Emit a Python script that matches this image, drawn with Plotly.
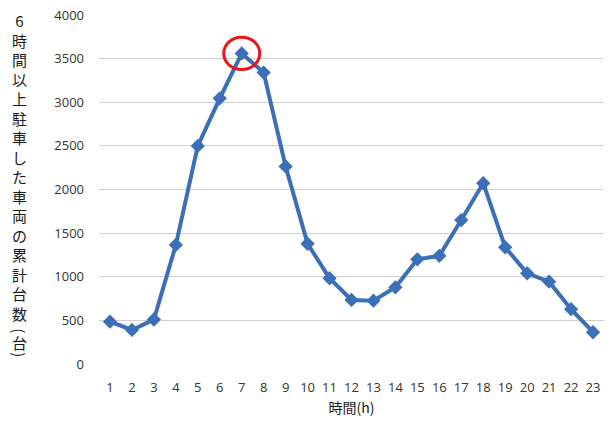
import plotly.graph_objects as go

# Hour of day (h)
hours = list(range(1, 24))
# Cumulative number of vehicles parked for 6 hours or more
vehicles = [485, 390, 510, 1365, 2500, 3045, 3560, 3340, 2265, 1378,
            983, 734, 726, 879, 1200, 1240, 1650, 2072, 1338, 1040,
            943, 628, 364]

y_ticks = [0, 500, 1000, 1500, 2000, 2500, 3000, 3500, 4000]
y_title_chars = ["6", "時", "間", "以", "上", "駐", "車", "し", "た", "車",
                 "両", "の", "累", "計", "台", "数"]
y_title_unit = ["(", "台", ")"]
x_title = "時間(h)"

peak_hour = 7
peak_value = vehicles[hours.index(peak_hour)]

tick_font = dict(family="Open Sans, Noto Sans CJK JP", size=13, color="#333333")
cjk_font = dict(family="Noto Sans CJK JP", size=15, color="#1a1a1a")

plot_top, plot_bottom = 15, 364  # pixel rows of the plot area
plot_h = plot_bottom - plot_top


def py(pix):
    """Pixel row -> paper y."""
    return (plot_bottom - pix) / plot_h


fig = go.Figure()
fig.add_trace(go.Scatter(
    x=hours, y=vehicles, mode="lines+markers",
    line=dict(color="#3b6fb8", width=4),
    marker=dict(symbol="diamond", size=11, color="#3b6fb8"),
    showlegend=False,
))

# red ring around the peak
fig.add_shape(type="circle", xref="x", yref="y",
              x0=peak_hour - 0.82, x1=peak_hour + 0.82,
              y0=peak_value - 185, y1=peak_value + 185,
              line=dict(color="#e8161b", width=3))

# vertical axis title, one character per line
title_x = -0.157
fig.add_annotation(text="<br>".join(y_title_chars), xref="paper", yref="paper",
                   x=title_x, y=py(167), xanchor="center", yanchor="middle",
                   showarrow=False, font=cjk_font, align="center")
# unit in brackets, brackets turned for vertical writing
for ch, row, ang in zip(y_title_unit, [331, 342, 355], [90, 0, 90]):
    fig.add_annotation(text=ch, xref="paper", yref="paper",
                       x=title_x, y=py(row), xanchor="center", yanchor="middle",
                       showarrow=False, font=cjk_font, textangle=ang)

fig.update_layout(
    width=611, height=426,
    margin=dict(l=99, r=7, t=plot_top, b=426 - plot_bottom),
    paper_bgcolor="white", plot_bgcolor="white",
    xaxis=dict(range=[0.5, 23.5], tickmode="array", tickvals=hours,
               ticktext=[str(h) for h in hours], showgrid=False,
               zeroline=False, showline=False, ticks="",
               tickfont=tick_font, ticklabelstandoff=14,
               title=dict(text=x_title, font=dict(family="Noto Sans CJK JP", size=14,
                                                  color="#1a1a1a"), standoff=8)),
    yaxis=dict(range=[0, 4000], tickmode="array", tickvals=y_ticks,
               showgrid=True, gridcolor="#d0d0d0", gridwidth=1,
               zeroline=False, showline=False, ticks="",
               tickfont=tick_font, ticklabelstandoff=14),
)

fig.write_html("out.html")
